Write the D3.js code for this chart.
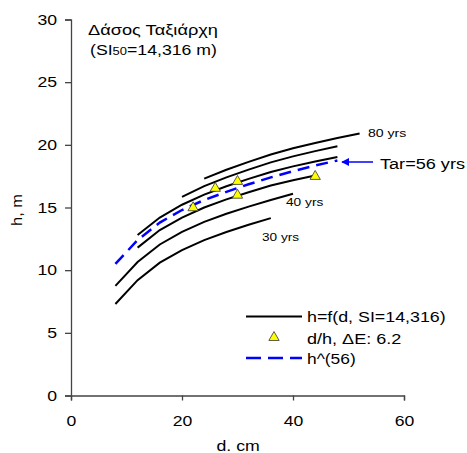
<!DOCTYPE html>
<html>
<head>
<meta charset="utf-8">
<script src="https://cdn.jsdelivr.net/npm/d3@7/dist/d3.min.js"></script>
<style>
  body { margin: 0; background: #fff; }
  svg { font-family: "Liberation Sans", Arial, sans-serif; }
</style>
</head>
<body>
<svg id="chart" width="467" height="453"></svg>
<script>
// diameters (cm) used by the curves
var diam = [8, 12, 16, 20, 24, 28, 32, 36, 40, 44, 48, 52];
// height curves h=f(d, SI=14,316) per age
var curve30 = [7.3, 9.2, 10.6, 11.6, 12.4, 13.05, 13.62, 14.15];
var curve40 = [8.75, 10.65, 12.05, 13.05, 13.85, 14.5, 15.07, 15.6, 16.1];
var curve50 = [11.8, 13.2, 14.2, 15.0, 15.65, 16.22, 16.75, 17.18, 17.55];
var curve60 = [12.8, 14.2, 15.22, 16.03, 16.7, 17.28, 17.83, 18.28, 18.67, 19.03];
var curve70 = [15.85, 16.7, 17.4, 18.02, 18.6, 19.08, 19.5, 19.88];
var curve80 = [17.3, 18.01, 18.64, 19.23, 19.72, 20.15, 20.54, 20.9];
// first diameter of each curve
var curveStart = { 30: 8, 40: 8, 50: 12, 60: 12, 70: 20, 80: 24 };
// h^(56) dashed
var curve56 = [10.5, 12.4, 13.8, 14.8, 15.6, 16.25, 16.85, 17.4, 17.9, 18.35, 18.75];
// measured d/h
var obsD = [22, 26, 30, 30, 44];
var obsH = [14.9, 16.45, 17.0, 15.9, 17.4];

var xTicks = [0, 20, 40, 60];
var yTicks = [0, 5, 10, 15, 20, 25, 30];

var svg = d3.select('#chart');
var x = d3.scaleLinear().domain([0, 60]).range([71, 404]);
var y = d3.scaleLinear().domain([0, 30]).range([395.5, 19.5]);

function toPoints(vals, start) {
    var i0 = diam.indexOf(start);
    return vals.map(function (h, i) { return { d: diam[i0 + i], h: h }; });
}
var line = d3.line().x(function (p) { return x(p.d); }).y(function (p) { return y(p.h); });

// the original text is drawn wider than plain Arial, stretch it
function label(parent, tx, ty, size, str, width) {
    var t = parent.append('text').attr('x', tx).attr('y', ty).attr('font-size', size).text(str);
    if (width) t.attr('textLength', width).attr('lengthAdjust', 'spacingAndGlyphs');
    return t;
}

// axes
var xAxis = svg.append('g').attr('transform', 'translate(0,' + y(0) + ')')
    .call(d3.axisBottom(x).tickValues(xTicks).tickSizeOuter(0).tickSize(5).tickPadding(15));
var yAxis = svg.append('g').attr('transform', 'translate(' + x(0) + ',0)')
    .call(d3.axisLeft(y).tickValues(yTicks).tickSizeOuter(0).tickSize(6).tickPadding(8));
[xAxis, yAxis].forEach(function (a) {
    a.selectAll('path').attr('stroke', '#444').attr('stroke-width', 1.3);
    a.selectAll('line').attr('stroke', '#444').attr('stroke-width', 1.3);
    a.selectAll('text').attr('font-size', 15).attr('fill', '#000')
        .attr('font-family', '"Liberation Sans", Arial, sans-serif')
        .attr('textLength', function (d) { return String(d).length * 9.8; })
        .attr('lengthAdjust', 'spacingAndGlyphs');
});

// black curves
var curves = [[curve30, 30], [curve40, 40], [curve50, 50], [curve60, 60], [curve70, 70], [curve80, 80]];
curves.forEach(function (c) {
    svg.append('path')
        .attr('d', line(toPoints(c[0], curveStart[c[1]])))
        .attr('fill', 'none').attr('stroke', '#000').attr('stroke-width', 2);
});

// dashed h^(56)
svg.append('path')
    .attr('d', line(toPoints(curve56, 8)))
    .attr('fill', 'none').attr('stroke', '#0000ff').attr('stroke-width', 2.5)
    .attr('stroke-dasharray', '12,7');

// triangles
var tri = d3.symbol().type(d3.symbolTriangle).size(46);
obsD.forEach(function (d, i) {
    svg.append('path').attr('d', tri)
        .attr('transform', 'translate(' + x(d) + ',' + (y(obsH[i]) - 1) + ')')
        .attr('fill', '#ffff00').attr('stroke', '#333').attr('stroke-width', 0.8);
});

// curve labels
label(svg, 368, 137, 11.5, '80 yrs', 38.3);
label(svg, 286, 206, 11.5, '40 yrs', 37.3);
label(svg, 262, 241, 11.5, '30 yrs', 37);

// arrow to dashed curve
svg.append('defs').append('marker').attr('id', 'ah')
    .attr('viewBox', '0 0 10 10').attr('refX', 9).attr('refY', 5)
    .attr('markerUnits', 'userSpaceOnUse')
    .attr('markerWidth', 8).attr('markerHeight', 8).attr('orient', 'auto')
    .append('path').attr('d', 'M0,0L10,5L0,10z').attr('fill', '#0000ff');
svg.append('line').attr('x1', 373).attr('y1', 162).attr('x2', 342).attr('y2', 162)
    .attr('stroke', '#0000ff').attr('stroke-width', 1.5).attr('marker-end', 'url(#ah)');
label(svg, 380, 168.5, 15.5, 'Tar=56 yrs', 85);

// title
label(svg, 88, 35, 15, 'Δάσος Ταξιάρχη', 130);
var sub = svg.append('text').attr('x', 90).attr('y', 55).attr('font-size', 15)
    .attr('textLength', 127).attr('lengthAdjust', 'spacingAndGlyphs');
sub.append('tspan').text('(SI');
sub.append('tspan').attr('font-size', 11).text('50');
sub.append('tspan').text('=14,316 m)');

// axis titles
label(svg, 216.5, 451, 15, 'd. cm', 43.3);
svg.append('text').attr('transform', 'translate(22,210) rotate(-90)').attr('text-anchor', 'middle')
    .attr('font-size', 15).attr('textLength', 32).attr('lengthAdjust', 'spacingAndGlyphs').text('h, m');

// legend
var lg = svg.append('g');
lg.append('line').attr('x1', 246).attr('x2', 302).attr('y1', 316.5).attr('y2', 316.5)
    .attr('stroke', '#000').attr('stroke-width', 2);
label(lg, 307, 322, 15, 'h=f(d, SI=14,316)', 138.7);
lg.append('path').attr('d', tri).attr('transform', 'translate(274,337.5)')
    .attr('fill', '#ffff00').attr('stroke', '#333').attr('stroke-width', 0.8);
label(lg, 307, 343.5, 15, 'd/h, ΔE: 6.2', 94.3);
lg.append('line').attr('x1', 246).attr('x2', 302).attr('y1', 358).attr('y2', 358)
    .attr('stroke', '#0000ff').attr('stroke-width', 2.5).attr('stroke-dasharray', '15,7');
label(lg, 307, 363.5, 15, 'h^(56)', 48.7);
</script>
</body>
</html>
